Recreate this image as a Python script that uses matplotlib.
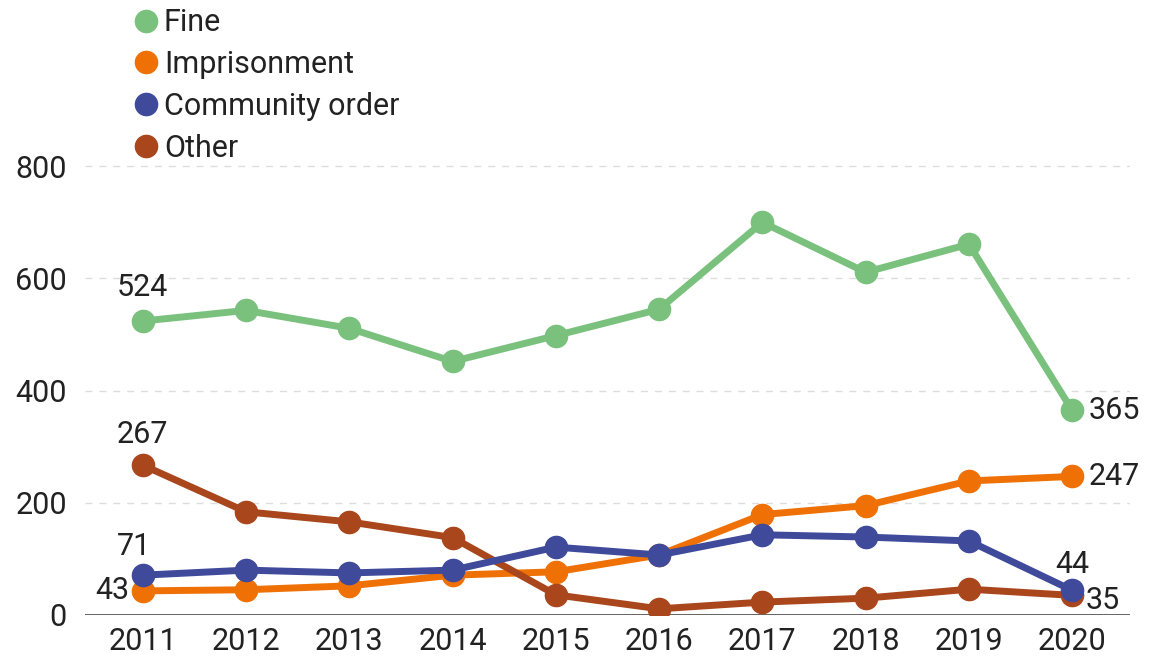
import matplotlib.pyplot as plt
from matplotlib.lines import Line2D

plt.rcParams['font.family'] = ['Roboto', 'DejaVu Sans']

years = [2011, 2012, 2013, 2014, 2015, 2016, 2017, 2018, 2019, 2020]
fine = [524, 543, 511, 452, 498, 545, 700, 611, 661, 365]
imprisonment = [43, 45, 52, 71, 77, 107, 179, 195, 239, 247]
community = [71, 80, 75, 80, 121, 107, 143, 139, 132, 44]
other = [267, 184, 166, 138, 36, 11, 23, 30, 46, 35]

names = ['Fine', 'Imprisonment', 'Community order', 'Other']
colors = ['#7BC17E', '#EF7105', '#3F4A9B', '#AA461C']
text_col = '#222222'
fs = 22

fig = plt.figure(figsize=(11.55, 6.65), dpi=100)
ax = fig.add_axes([85 / 1155, 50 / 665, 1045 / 1155, 460 / 665])

# draw order: Other beneath Community order
series = [(fine, colors[0]), (imprisonment, colors[1]), (other, colors[3]), (community, colors[2])]
for vals, c in series:
    ax.plot(years, vals, color=c, lw=5, marker='o', ms=16, solid_capstyle='round')

ax.set_xlim(2010.44, 2020.56)
ax.set_ylim(0, 820)
ax.set_xticks(years)
ax.set_yticks([0, 200, 400, 600, 800])
ax.tick_params(axis='both', length=0, labelsize=fs, colors=text_col)
ax.tick_params(axis='x', pad=9)
ax.tick_params(axis='y', pad=13)

for y in [200, 400, 600, 800]:
    ax.axhline(y, color='#dddddd', lw=1, ls=(0, (5, 5)), zorder=0)
ax.axhline(0, color='#555555', lw=2, zorder=1)
for s in ax.spines.values():
    s.set_visible(False)


def label(value, x, y, dx, dy, ha, va):
    ax.annotate(f'{value}', (x, y), xytext=(dx, dy), textcoords='offset points',
                ha=ha, va=va, fontsize=fs, color=text_col)


# value labels at the ends of each line
label(fine[0], years[0], fine[0], 0, 14, 'center', 'bottom')
label(other[0], years[0], other[0], 0, 12, 'center', 'bottom')
label(community[0], years[0], community[0], -6, 10, 'center', 'bottom')
label(imprisonment[0], years[0], imprisonment[0], -10, 0, 'right', 'center')
label(fine[-1], years[-1], fine[-1], 12, 0, 'left', 'center')
label(imprisonment[-1], years[-1], imprisonment[-1], 12, 0, 'left', 'center')
label(community[-1], years[-1], community[-1], 0, 8, 'center', 'bottom')
label(other[-1], years[-1], other[-1], 10, -4, 'left', 'center')

handles = [Line2D([], [], ls='none', marker='o', ms=16, color=c) for c in colors]
fig.legend(handles, names, loc='upper left', bbox_to_anchor=(115 / 1155, 1.006),
           frameon=False, fontsize=fs, handletextpad=0.0, labelspacing=0.42,
           handlelength=1.2, borderaxespad=0.0, labelcolor=text_col)

fig.savefig('out.png', dpi=100)
